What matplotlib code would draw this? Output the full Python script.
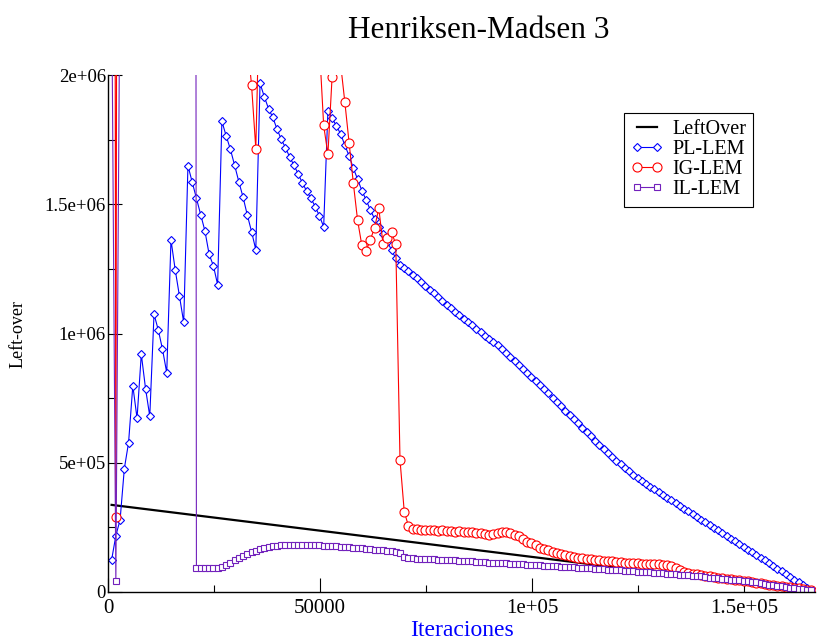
import numpy as np
import matplotlib.pyplot as plt
from matplotlib.ticker import MultipleLocator

plt.rcParams['font.family'] = ['Liberation Serif', 'DejaVu Serif']

# iteration at which each sample was taken
iters = np.arange(850, 166000, 1000)

leftover_x = [850, 165850]
leftover_y = [337e3, 2e3]

# left-over per sample, in thousands
pl_lem = np.array([
    124, 218, 279, 477, 578, 798, 672, 920, 787, 680,
    1075, 1014, 939, 848, 1362, 1246, 1145, 1043, 1649, 1586,
    1523, 1460, 1397, 1306, 1262, 1189, 1821, 1765, 1713, 1651,
    1587, 1527, 1458, 1394, 1324, 1968, 1916, 1870, 1836, 1791,
    1751, 1719, 1682, 1651, 1617, 1582, 1551, 1523, 1491, 1455,
    1413, 1862, 1833, 1803, 1772, 1728, 1687, 1640, 1597, 1553,
    1517, 1478, 1444, 1413, 1385, 1355, 1323, 1291, 1265, 1252,
    1240, 1227, 1213, 1199, 1184, 1170, 1155, 1140, 1126, 1112,
    1099, 1085, 1072, 1058, 1044, 1031, 1017, 1004, 991, 979,
    966, 954, 940, 925, 910, 895, 880, 864, 849, 833,
    817, 801, 785, 769, 752, 736, 719, 702, 686, 669,
    652, 636, 619, 603, 586, 570, 554, 538, 523, 508,
    494, 480, 467, 454, 442, 430, 419, 408, 397, 386,
    375, 364, 354, 343, 333, 322, 312, 301, 291, 280,
    270, 259, 249, 238, 227, 217, 206, 196, 185, 175,
    164, 154, 143, 133, 122, 111, 101, 90, 80, 69,
    59, 48, 38, 27, 17, 6,
]) * 1e3

ig_lem = np.array([
    12000, 291, 11000,
    9500, 8200, 7400, 6900, 6100, 5600, 5300, 4800, 4500, 4300,
    4000, 3800, 3600, 3500, 3300, 3200, 3100, 3000, 2900, 2850,
    2800, 2700, 2650, 2600, 2550, 2500, 2450, 2400, 2350,
    2130, 1960, 1715, 2400,
    2600, 2750, 2900, 3000, 3100, 3050, 2950, 2850, 2700, 2600,
    2500, 2400, 2300,
    2111, 1805, 1693, 1993, 2300, 2042, 1894, 1738, 1581, 1438, 1341,
    1319, 1362, 1409, 1484, 1346, 1368, 1392, 1346, 511, 311,
    255, 244, 242, 240, 238, 240, 238, 236, 238, 236,
    236, 234, 236, 234, 232, 232, 230, 228, 224, 220,
    224, 228, 232, 232, 228, 222, 215, 205, 195, 188,
    180, 172, 166, 161, 156, 151, 147, 143, 139, 135,
    132, 130, 128, 126, 124, 122, 120, 119, 118, 116,
    115, 114, 113, 112, 111, 110, 109, 108, 108, 107,
    104, 103, 99, 93, 85, 77, 72, 70, 68, 65,
    63, 61, 59, 56, 54, 52, 50, 47, 45, 43,
    41, 38, 36, 34, 32, 29, 27, 25, 23, 20,
    18, 16, 14, 11, 9, 7,
]) * 1e3

il_lem = np.array([
    2391, 43, 2487,
    3000, 3400, 3900, 4300, 4800, 5200, 5700, 6100,
    6600, 7000, 7500, 8000, 8600, 9300, 10500, 12500,
    19000,
    92, 92, 92, 92, 93, 93, 95, 104, 114, 124,
    132, 139, 147, 153, 159, 166, 172, 176, 178, 179,
    180, 181, 181, 181, 181, 181, 180, 180, 180, 180,
    179, 179, 178, 177, 176, 175, 173, 172, 170, 169,
    167, 166, 164, 162, 161, 159, 158, 156, 149, 137,
    133, 131, 129, 128, 128, 127, 126, 125, 124, 124,
    123, 122, 121, 120, 119, 118, 117, 116, 115, 114,
    113, 112, 112, 111, 110, 109, 108, 107, 106, 105,
    104, 103, 102, 101, 100, 99, 98, 97, 96, 95,
    94, 93, 92, 91, 90, 89, 88, 87, 86, 85,
    84, 83, 82, 81, 79, 78, 77, 76, 74, 73,
    72, 71, 69, 68, 67, 66, 65, 63, 61, 60,
    58, 56, 55, 53, 51, 50, 48, 46, 45, 43,
    41, 39, 37, 34, 32, 29, 27, 25, 22, 20,
    17, 15, 13, 10, 8, 6,
]) * 1e3

x_ticks = [0, 50000, 100000, 150000]
x_tick_labels = ['0', '50000', '1e+05', '1.5e+05']
y_ticks = [0, 5e5, 1e6, 1.5e6, 2e6]
y_tick_labels = ['0', '5e+05', '1e+06', '1.5e+06', '2e+06']

blue = '#0000ff'
red = '#ff0000'
indigo = '#7221bc'

fig = plt.figure(figsize=(8.39, 6.44), dpi=100)
ax = fig.add_axes([108 / 839, 52 / 644, 707 / 839, 517 / 644])

ax.plot(leftover_x, leftover_y, color='black', lw=1.6, label='LeftOver')
ax.plot(iters, pl_lem, color=blue, lw=0.8, marker='D', ms=4.5,
        mfc='white', mec=blue, mew=0.8, label='PL-LEM')
ax.plot(iters, ig_lem, color=red, lw=0.8, marker='o', ms=6.5,
        mfc='white', mec=red, mew=0.8, label='IG-LEM')
ax.plot(iters, il_lem, color=indigo, lw=0.8, marker='s', ms=5,
        mfc='white', mec=indigo, mew=0.8, label='IL-LEM')

ax.set_xlim(0, 166700)
ax.set_ylim(0, 2e6)

ax.set_xticks(x_ticks)
ax.set_xticklabels(x_tick_labels)
ax.set_yticks(y_ticks)
ax.set_yticklabels(y_tick_labels)
ax.xaxis.set_minor_locator(MultipleLocator(25000))
ax.yaxis.set_minor_locator(MultipleLocator(2.5e5))
ax.tick_params(which='both', direction='in', top=False, right=False,
               width=0.8, color='black')
ax.tick_params(which='major', length=10)
ax.tick_params(which='minor', length=5)
ax.tick_params(axis='x', labelsize=15, pad=5)
ax.tick_params(axis='y', labelsize=13.5, pad=1.5)

ax.spines['top'].set_visible(False)
ax.spines['right'].set_visible(False)
ax.spines['left'].set_linewidth(1.0)
ax.spines['bottom'].set_linewidth(1.0)

ax.set_xlabel('Iteraciones', fontsize=17, color=blue)
ax.xaxis.set_label_coords(0.5, (592 - 630) / 517)
ax.xaxis.label.set_va('center')
ax.set_ylabel('Left-over', fontsize=13)
ax.yaxis.set_label_coords((18 - 108) / 707, 0.5)
ax.yaxis.label.set_va('center')

fig.text(478.5 / 839, 1 - 31 / 644, 'Henriksen-Madsen 3',
         ha='center', va='center', fontsize=22.5)

leg = ax.legend(loc='upper left', bbox_to_anchor=(624 / 839, 1 - 113 / 644),
                bbox_transform=fig.transFigure, fancybox=False,
                edgecolor='black', framealpha=1, fontsize=14.5,
                handlelength=1.6, handletextpad=0.45, labelspacing=0.05,
                borderpad=0.35, borderaxespad=0, numpoints=2)
leg.get_frame().set_linewidth(0.8)

fig.savefig('out.png', dpi=100)
